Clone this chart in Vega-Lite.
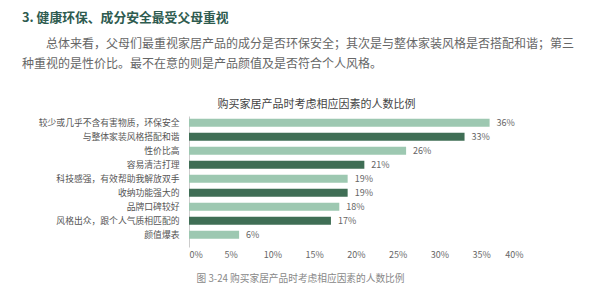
{
  "$schema": "https://vega.github.io/schema/vega-lite/v6.json",
  "autosize": "none",
  "width": 334,
  "height": 131,
  "padding": {"left": 189, "top": 116, "right": 77, "bottom": 48},
  "background": "#ffffff",
  "config": {"view": {"stroke": null}, "font": "Noto Sans CJK SC"},
  "title": {
    "text": "3. 健康环保、成分安全最受父母重视",
    "subtitle": ["\u200b\u3000\u3000总体来看，父母们最重视家居产品的成分是否环保安全；其次是与整体家装风格是否搭配和谐；第三", "种重视的是性价比。最不在意的则是产品颜值及是否符合个人风格。"],
    "anchor": "start",
    "frame": "group",
    "dx": -167,
    "offset": 28,
    "font": "Noto Sans CJK SC",
    "fontSize": 12.8,
    "fontWeight": "bold",
    "color": "#2e5b4f",
    "subtitleFont": "Noto Sans CJK SC",
    "subtitleFontSize": 12,
    "subtitleColor": "#666666",
    "subtitleLineHeight": 20,
    "subtitlePadding": 14
  },
  "data": {
    "values": [
      {"factor": "较少或几乎不含有害物质，环保安全", "share": 0.36, "rank": 1},
      {"factor": "与整体家装风格搭配和谐", "share": 0.33, "rank": 2},
      {"factor": "性价比高", "share": 0.26, "rank": 3},
      {"factor": "容易清洁打理", "share": 0.21, "rank": 4},
      {"factor": "科技感强，有效帮助我解放双手", "share": 0.19, "rank": 5},
      {"factor": "收纳功能强大的", "share": 0.19, "rank": 6},
      {"factor": "品牌口碑较好", "share": 0.18, "rank": 7},
      {"factor": "风格出众，跟个人气质相匹配的", "share": 0.17, "rank": 8},
      {"factor": "颜值爆表", "share": 0.06, "rank": 9}
    ]
  },
  "encoding": {
    "y": {
      "field": "factor",
      "type": "nominal",
      "sort": null,
      "scale": {"paddingInner": 0.43, "paddingOuter": 0.39, "align": 0.25},
      "axis": {
        "title": null,
        "ticks": false,
        "domainColor": "#cccccc",
        "labelFontSize": 8.8,
        "labelColor": "#555555",
        "labelPadding": 10,
        "labelLimit": 300
      }
    }
  },
  "layer": [
    {
      "mark": {"type": "bar"},
      "encoding": {
        "x": {
          "field": "share",
          "type": "quantitative",
          "scale": {"domain": [0, 0.4], "nice": false},
          "axis": {
            "orient": "bottom",
            "values": [0, 0.05, 0.1, 0.15, 0.2, 0.25, 0.3, 0.35, 0.4],
            "format": ".0%",
            "grid": false,
            "ticks": false,
            "domain": false,
            "labelFontSize": 9,
            "labelColor": "#666666",
            "labelPadding": 3,
            "title": "图 3-24 购买家居产品时考虑相应因素的人数比例",
            "titleX": 111,
            "titleY": 31,
            "titleBaseline": "middle",
            "titleFontSize": 9.7,
            "titleFontWeight": "normal",
            "titleColor": "#888888"
          }
        },
        "color": {
          "condition": {"test": "datum.rank % 2 == 1", "value": "#9dc8b1"},
          "value": "#3f6e55"
        }
      }
    },
    {
      "mark": {"type": "text", "align": "left", "baseline": "middle", "dx": 7, "fontSize": 9, "color": "#666666"},
      "encoding": {
        "x": {
          "field": "share",
          "type": "quantitative",
          "axis": {
            "orient": "top",
            "labels": false,
            "ticks": false,
            "domain": false,
            "grid": false,
            "title": "购买家居产品时考虑相应因素的人数比例",
            "titleX": 127,
            "titleY": -12,
            "titleBaseline": "middle",
            "titleFontSize": 11,
            "titleFontWeight": "normal",
            "titleColor": "#444444"
          }
        },
        "text": {"field": "share", "type": "quantitative", "format": ".0%"}
      }
    }
  ],
  "resolve": {"axis": {"x": "independent"}}
}
